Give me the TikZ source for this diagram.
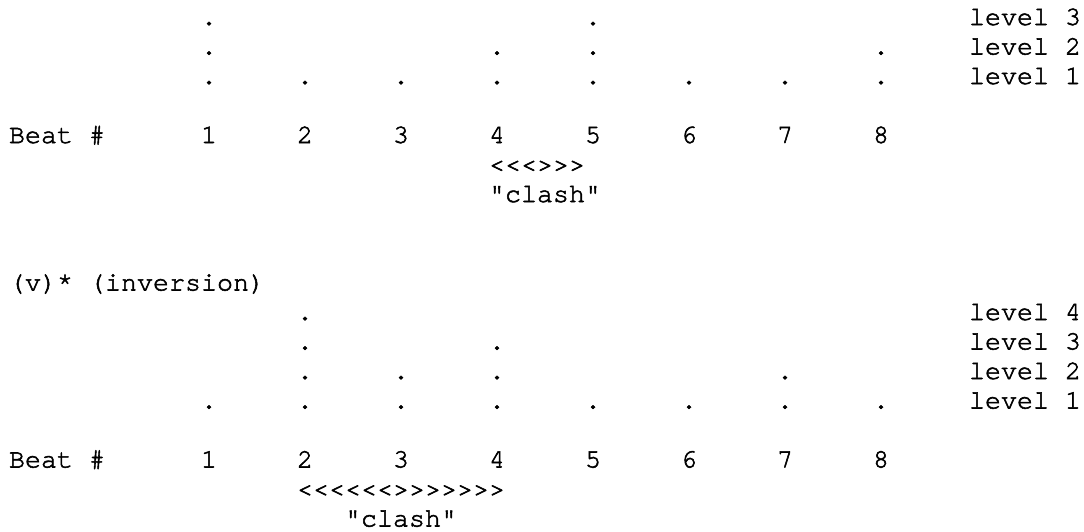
\documentclass[tikz,border=0pt]{standalone}
\usepackage{fontspec}
\newfontfamily\mono[FakeBold=2]{texgyrecursor-regular.otf}
\begin{document}
\begin{tikzpicture}[x=1pt,y=-1pt,
  txt/.style={inner sep=0pt, outer sep=0pt, anchor=base west,
    font=\mono\fontsize{26.67}{29.5}\selectfont}]
\useasboundingbox (0,0) rectangle (1084,531);
% ---------- top diagram ----------
\foreach \b in {1,5} \node[txt] (tlvA\b) at ({105+96*\b},25) {.};
\foreach \b in {1,4,5,8} \node[txt] (tlvB\b) at ({105+96*\b},54.5) {.};
\foreach \b in {1,...,8} \node[txt] (tlvC\b) at ({105+96*\b},84) {.};
\node[txt] (tlab3) at (969,25) {level 3};
\node[txt] (tlab2) at (969,54.5) {level 2};
\node[txt] (tlab1) at (969,84) {level 1};
\node[txt] (tbeat) at (9,143) {Beat \#};
\foreach \b in {1,...,8} \node[txt] (tnum\b) at ({105+96*\b},143) {\b};
\node[txt] (tarrow) at (489,172.5) {<<<>>>};
\node[txt] (tclash) at (489,202) {"clash"};
% ---------- bottom diagram ----------
\node[txt] (inv) at (9,290.5) {(v)* (inversion)};
\foreach \b in {2} \node[txt] (blvA\b) at ({105+96*\b},320) {.};
\foreach \b in {2,4} \node[txt] (blvB\b) at ({105+96*\b},349.5) {.};
\foreach \b in {2,3,4,7} \node[txt] (blvC\b) at ({105+96*\b},379) {.};
\foreach \b in {1,...,8} \node[txt] (blvD\b) at ({105+96*\b},408.5) {.};
\node[txt] (blab4) at (969,320) {level 4};
\node[txt] (blab3) at (969,349.5) {level 3};
\node[txt] (blab2) at (969,379) {level 2};
\node[txt] (blab1) at (969,408.5) {level 1};
\node[txt] (bbeat) at (9,467.5) {Beat \#};
\foreach \b in {1,...,8} \node[txt] (bnum\b) at ({105+96*\b},467.5) {\b};
\node[txt] (barrow) at (297,497) {<<<<<<>>>>>>>};
\node[txt] (bclash) at (345,526.5) {"clash"};
\end{tikzpicture}
\end{document}
